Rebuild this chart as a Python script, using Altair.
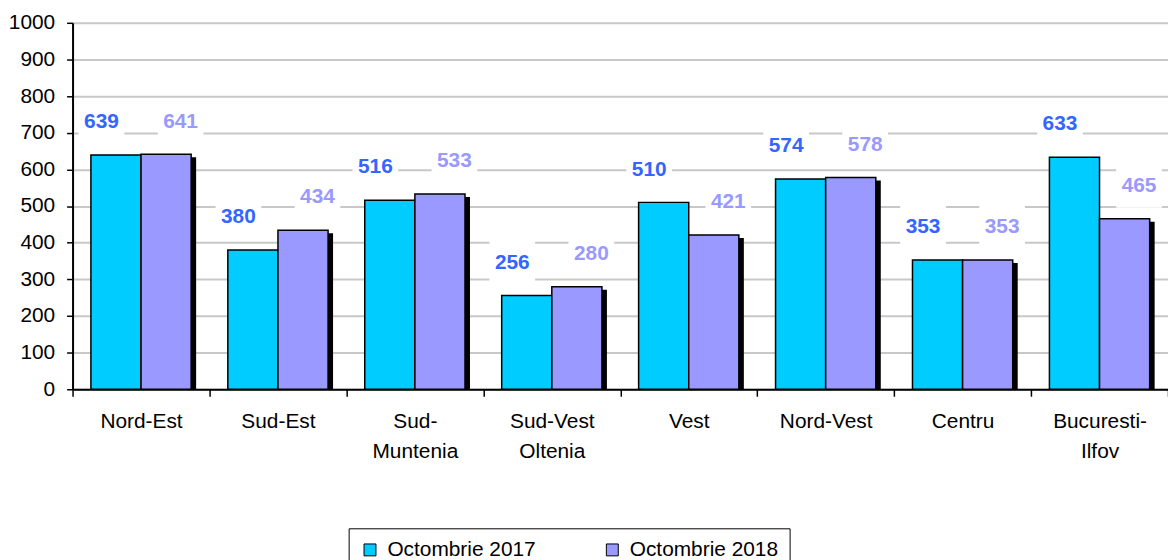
import altair as alt
import pandas as pd

# ---- data ----
regions = ["Nord-Est", "Sud-Est", "Sud-|Muntenia", "Sud-Vest|Oltenia",
           "Vest", "Nord-Vest", "Centru", "Bucuresti-|Ilfov"]
oct2017 = [639, 380, 516, 256, 510, 574, 353, 633]
oct2018 = [641, 434, 533, 280, 421, 578, 353, 465]
series = ["Octombrie 2017", "Octombrie 2018"]
bar_colors = ["#00CCFF", "#9999FF"]
label_colors = ["#3366FF", "#9999FF"]
y_ticks = list(range(0, 1001, 100))

rows = []
for i, r in enumerate(regions):
    rows.append({"region": r, "series": series[0], "value": oct2017[i]})
    rows.append({"region": r, "series": series[1], "value": oct2018[i]})
df = pd.DataFrame(rows)

FONT = "Liberation Sans"
FS = 21

x_enc = alt.X(
    "region:N", sort=regions,
    scale=alt.Scale(paddingInner=0, paddingOuter=0),
    axis=alt.Axis(
        title=None, labelAngle=0, tickBand="extent",
        labelExpr="split(datum.label, '|')",
        labelFont=FONT, labelFontSize=FS, labelColor="black",
        labelLineHeight=31, labelPadding=14,
        domainColor="black", domainWidth=2,
        tickColor="black", tickWidth=1.5, tickSize=7,
        grid=False,
    ),
)
y_enc = alt.Y(
    "value:Q", stack=False,
    scale=alt.Scale(domain=[0, 1000]),
    axis=alt.Axis(
        title=None, values=y_ticks, format="d",
        labelFont=FONT, labelFontSize=FS, labelColor="black",
        labelPadding=12,
        domainColor="black", domainWidth=2,
        tickColor="black", tickWidth=1.5, tickSize=6,
        grid=True, gridColor="#c8c8c8", gridWidth=2,
    ),
)
xoff_main = alt.XOffset(
    "series:N", sort=series,
    scale=alt.Scale(domain=series, paddingInner=0, paddingOuter=0.366),
)
xoff_shadow = alt.XOffset(
    "series:N", sort=series,
    scale=alt.Scale(domain=series, paddingInner=0, paddingOuter=0.366, align=0.636),
)

base = alt.Chart(df)

box_shape = "M-1,-0.95H1V0.95H-1Z"
boxes = base.mark_point(
    shape=box_shape, size=2116, filled=True, color="white",
    opacity=1, strokeWidth=0, yOffset=-33,
).encode(x=x_enc, y=y_enc, xOffset=xoff_main)

shadow = base.transform_filter(
    alt.datum.series == series[1]
).mark_bar(color="black", yOffset=3).encode(
    x=x_enc, y=y_enc, xOffset=xoff_shadow
)

bars = base.mark_bar(stroke="black", strokeWidth=1.5).encode(
    x=x_enc, y=y_enc, xOffset=xoff_main,
    color=alt.Color(
        "series:N", sort=series,
        scale=alt.Scale(domain=series, range=bar_colors),
        legend=alt.Legend(
            title=None, orient="none", legendX=278, legendY=509,
            direction="horizontal", symbolType="square", symbolSize=144,
            symbolStrokeColor="black", symbolStrokeWidth=1,
            labelFont=FONT, labelFontSize=FS, labelColor="black",
            strokeColor="black", fillColor="white", padding=11,
            columnPadding=66, labelOffset=7,
        ),
    ),
)

texts = []
for s, c in zip(series, label_colors):
    texts.append(
        base.transform_filter(alt.datum.series == s).mark_text(
            font=FONT, fontSize=FS, fontWeight="bold", color=c,
            dy=-33, baseline="middle",
        ).encode(x=x_enc, y=y_enc, xOffset=xoff_main, text=alt.Text("value:Q"))
    )

chart = alt.layer(boxes, shadow, bars, *texts).resolve_scale(
    xOffset="independent"
).properties(
    width=1103, height=369,
    autosize=alt.AutoSizeParams(type="none"),
    padding={"left": 65, "top": 13, "right": 0, "bottom": 170},
).configure_view(stroke="transparent")

chart.save("out.html", embed_options={"renderer": "svg", "actions": False})
